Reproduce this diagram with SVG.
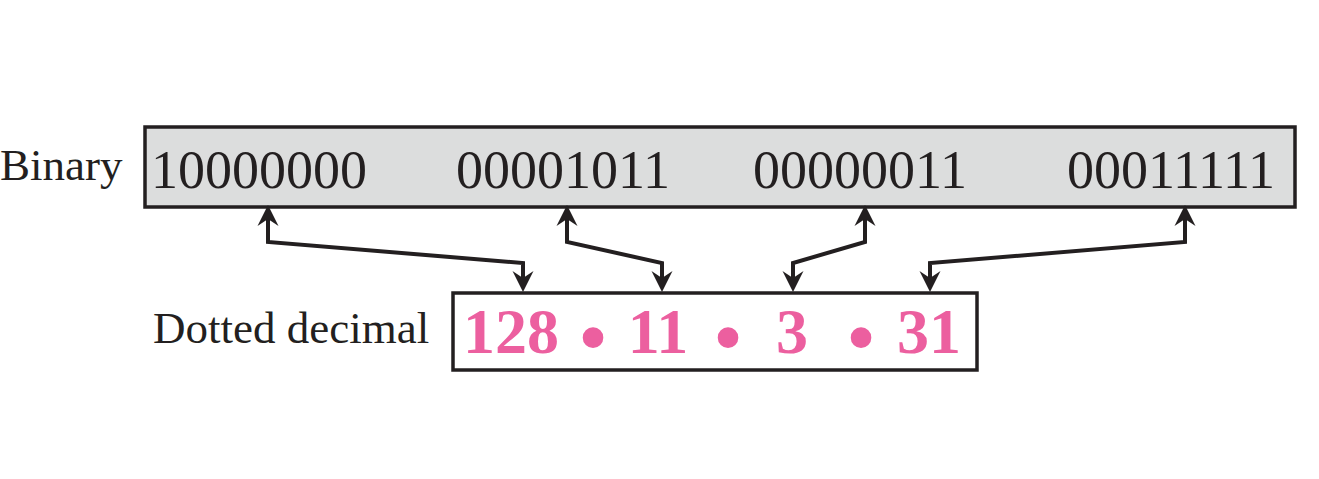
<svg xmlns="http://www.w3.org/2000/svg" width="1319" height="479" viewBox="0 0 1319 479">
<style>
.box{stroke:#231f20;stroke-width:3.5}
.lbl{font-family:"Liberation Serif","Times New Roman",serif;font-size:45px;fill:#231f20}
.bin{font-family:"Liberation Serif","Times New Roman",serif;font-size:54px;fill:#231f20;text-anchor:middle}
.dec{font-family:"Liberation Serif","Times New Roman",serif;font-size:64px;font-weight:bold;fill:#ec5f9f;text-anchor:middle}
.dot{font-family:"Liberation Serif","Times New Roman",serif;font-size:76px;font-weight:bold;fill:#ec5f9f;text-anchor:middle}
.conn{fill:none;stroke:#231f20;stroke-width:4;stroke-linejoin:miter;marker-start:url(#ah);marker-end:url(#ah)}
</style>
<defs>
<marker id="ah" markerUnits="userSpaceOnUse" orient="auto-start-reverse" viewBox="-17 -12 24 24" refX="0" refY="0" markerWidth="24" markerHeight="24" overflow="visible">
<path d="M5,0 L-16,-10.5 L-9,0 L-16,10.5 Z" fill="#231f20"/>
</marker>
</defs>
<rect width="1319" height="479" fill="#ffffff"/>
<g id="binary">
<rect class="box" x="145" y="127" width="1150" height="80" fill="#dcdddd"/>
<text class="bin" x="259" y="188">10000000</text>
<text class="bin" x="563" y="188">00001011</text>
<text class="bin" x="860" y="188">00000011</text>
<text class="bin" x="1171" y="188">00011111</text>
</g>
<g id="binary-label">
<text class="lbl" x="0" y="180">Binary</text>
</g>
<g id="dotted">
<rect class="box" x="453" y="293" width="524" height="77" fill="#ffffff"/>
<text class="dec" x="511" y="353">128</text>
<text class="dot" x="593" y="363">•</text>
<text class="dec" x="658" y="353">11</text>
<text class="dot" x="728" y="363">•</text>
<text class="dec" x="792" y="353">3</text>
<text class="dot" x="861" y="363">•</text>
<text class="dec" x="929" y="353">31</text>
</g>
<g id="dotted-label">
<text class="lbl" x="153" y="343">Dotted decimal</text>
</g>
<g id="connectors">
<path class="conn" d="M268,210 L268,242 L523,263 L523,287"/>
<path class="conn" d="M567,210 L567,242 L662,263 L662,287"/>
<path class="conn" d="M865,210 L865,242 L793,263 L793,287"/>
<path class="conn" d="M1185,210 L1185,242 L930,263 L930,287"/>
</g>
</svg>
